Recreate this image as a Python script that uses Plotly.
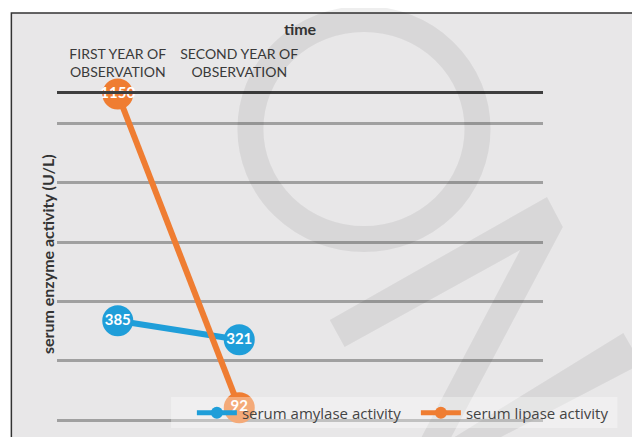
import plotly.graph_objects as go

# ---- data ----
categories = ["FIRST YEAR OF<br>OBSERVATION", "SECOND YEAR OF<br>OBSERVATION"]
cat_pos = [0, 1]
amylase = [385, 321]
lipase = [1150, 92]
series_names = ["serum amylase activity", "serum lipase activity"]
grid_vals = [50, 250, 450, 650, 850, 1050]

# ---- layout geometry (viewport pixels; the page body has an 8px margin) ----
VW, VH, BODY = 640, 437, 8
W, H = VW - BODY, VH - BODY
PL, PR, PT, PB = 57, 547, 94, 437          # plot area in viewport px
L, R, T, B = PL - BODY, VW - PR, PT - BODY, VH - PB
pw, ph = PR - PL, PB - PT


def px(x):
    return (x - PL) / pw


def py(y):
    return (PB - y) / ph


def path(points):
    return "M " + " L ".join(f"{px(x):.4f},{py(y):.4f}" for x, y in points) + " Z"


FONT = "Lato, 'Open Sans', sans-serif"
LFONT = "'Open Sans', Lato, sans-serif"
BLUE = "#1f9ed9"
ORANGE = "#ef7d32"
WM = "rgba(0,0,0,0.065)"

fig = go.Figure()
for name, vals, col in [(series_names[0], amylase, BLUE), (series_names[1], lipase, ORANGE)]:
    fig.add_trace(go.Scatter(
        x=cat_pos, y=vals, name=name, mode="lines+markers",
        line=dict(color=col, width=6),
        marker=dict(color=col, size=31),
        cliponaxis=False,
    ))
for vals in [amylase, lipase]:
    fig.add_trace(go.Scatter(
        x=cat_pos, y=vals, mode="text", text=[str(v) for v in vals],
        textposition="middle center", showlegend=False, cliponaxis=False,
        textfont=dict(family=FONT, size=15, color="white", weight="bold"),
    ))

shapes = [
    # frame
    dict(type="rect", xref="paper", yref="paper", layer="below",
         x0=px(11), x1=px(700), y0=py(480), y1=py(13),
         fillcolor="#e8e7e8", line=dict(color="#333333", width=1.5)),
    # watermark ring
    dict(type="circle", xref="paper", yref="paper", layer="above",
         x0=px(252), x1=px(481), y0=py(239), y1=py(19),
         fillcolor="rgba(0,0,0,0)", line=dict(color=WM, width=26)),
    # watermark "7"
    dict(type="path", xref="paper", yref="paper", layer="above",
         path=path([(332, 320), (551, 197), (567, 227), (453, 440), (423, 440), (524, 250), (347, 347)]),
         fillcolor=WM, line=dict(width=0)),
    # watermark band
    dict(type="path", xref="paper", yref="paper", layer="above",
         path=path([(453, 440), (628, 333), (646, 364), (499, 440)]),
         fillcolor=WM, line=dict(width=0)),
    # legend box
    dict(type="rect", xref="paper", yref="paper", layer="above",
         x0=px(172), x1=px(622), y0=py(428), y1=py(397),
         fillcolor="rgba(255,255,255,0.35)", line=dict(width=0)),
]

fig.update_layout(
    width=W, height=H,
    margin=dict(l=L, r=R, t=T, b=B, pad=0),
    paper_bgcolor="white", plot_bgcolor="rgba(0,0,0,0)",
    font=dict(family=FONT, color="#3a3a3a"),
    shapes=shapes,
    showlegend=True,
    legend=dict(orientation="h", x=px(193), y=py(413), xanchor="left", yanchor="middle",
                bgcolor="rgba(0,0,0,0)", font=dict(family=LFONT, size=15, color="#444444"),
                itemwidth=40, itemsizing="constant", entrywidth=169, traceorder="normal"),
    annotations=[dict(text="serum enzyme activity (U/L)", xref="paper", yref="paper",
                      x=px(47), y=py(254), xanchor="center", yanchor="middle",
                      textangle=-90, showarrow=False,
                      font=dict(family=FONT, size=16, color="#333333", weight="bold"))],
)
fig.update_xaxes(
    side="top", range=[-0.5, 3.5], tickmode="array", tickvals=cat_pos, ticktext=categories,
    showgrid=False, zeroline=False, showline=True, linecolor="#3e3e3e", linewidth=3,
    ticks="", ticklabelstandoff=8, tickfont=dict(family=FONT, size=14, color="#3a3a3a"),
    title=dict(text="time", standoff=6, font=dict(family=FONT, size=16, color="#333333", weight="bold")),
)
fig.update_yaxes(
    range=[1150 - ph / (59.3 / 200), 1150], tickmode="array", tickvals=grid_vals,
    showticklabels=False, ticks="", showgrid=True, gridcolor="#a0a0a0", gridwidth=3,
    zeroline=False, showline=False,
)
fig.write_html("out.html")
